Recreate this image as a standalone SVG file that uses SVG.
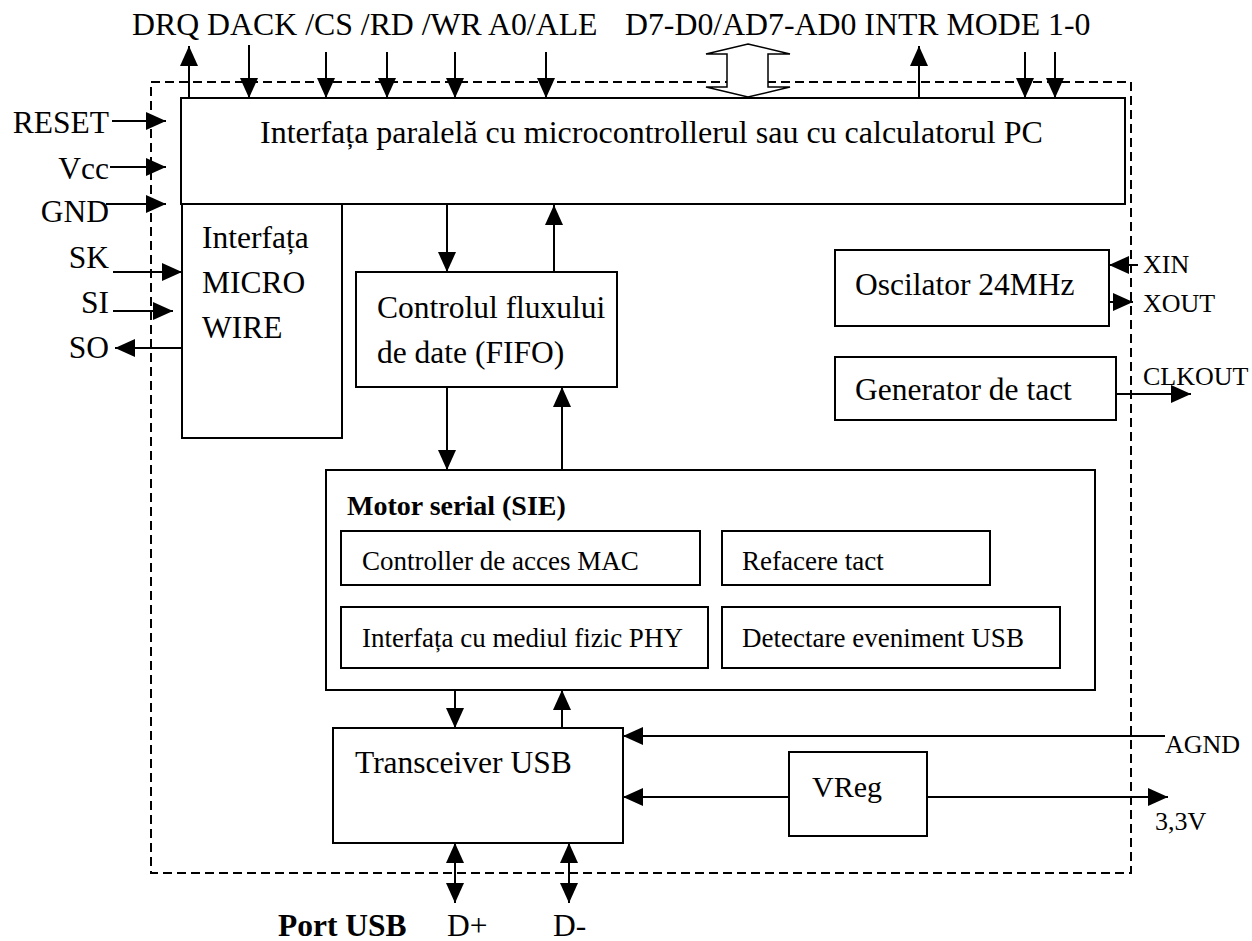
<svg xmlns="http://www.w3.org/2000/svg" width="1252" height="941" viewBox="0 0 1252 941">
<style>
  .box { fill: none; stroke: #000; stroke-width: 2; }
  .dash { fill: none; stroke: #000; stroke-width: 2; stroke-dasharray: 9 5; }
  .ln { fill: none; stroke: #000; stroke-width: 2; }
  .a { marker-end: url(#ah); }
  .aa { marker-start: url(#ah); marker-end: url(#ah); }
  text { font-family: "Liberation Serif", "Times New Roman", serif; fill: #000; }
  .t { font-size: 31.5px; }
  .top { font-size: 31.8px; }
  .sm { font-size: 26px; }
  .in { font-size: 27px; }
  .b { font-weight: bold; }
</style>
<defs>
  <marker id="ah" markerUnits="userSpaceOnUse" markerWidth="20" markerHeight="18" viewBox="0 0 20 18" refX="20" refY="9" orient="auto-start-reverse">
    <path d="M0,0 L20,9 L0,18 z" fill="#000"/>
  </marker>
</defs>
<rect class="dash" x="151" y="82" width="980" height="791"/>
<g id="labels">
  <text class="top" x="132" y="35">DRQ DACK /CS /RD /WR A0/ALE</text>
  <text class="top" x="625" y="35">D7-D0/AD7-AD0 INTR MODE 1-0</text>
  <text class="t" x="109" y="133" text-anchor="end">RESET</text>
  <text class="t" x="109" y="179" text-anchor="end">Vcc</text>
  <text class="t" x="109" y="222" text-anchor="end">GND</text>
  <text class="t" x="109" y="268" text-anchor="end">SK</text>
  <text class="t" x="109" y="313" text-anchor="end">SI</text>
  <text class="t" x="109" y="358" text-anchor="end">SO</text>
  <text class="sm" x="1143" y="273">XIN</text>
  <text class="sm" x="1143" y="312">XOUT</text>
  <text class="sm" x="1143" y="385">CLKOUT</text>
  <text class="sm" x="1165" y="753">AGND</text>
  <text class="sm" x="1155" y="830">3,3V</text>
  <text class="t b" x="278" y="936">Port USB</text>
  <text class="t" x="447" y="936">D+</text>
  <text class="t" x="553" y="936">D-</text>
</g>
<g id="parallel">
  <rect class="box" x="181" y="98" width="944" height="106"/>
  <text class="t" x="260" y="143" style="font-size:32px">Interfața paralelă cu microcontrollerul sau cu calculatorul PC</text>
</g>
<g id="microwire">
  <rect class="box" x="182" y="204" width="160" height="234"/>
  <text class="t" x="202" y="248">Interfața</text>
  <text class="t" x="202" y="293">MICRO</text>
  <text class="t" x="202" y="338">WIRE</text>
</g>
<g id="fifo">
  <rect class="box" x="356" y="272" width="261" height="115"/>
  <text class="t" x="377" y="318">Controlul fluxului</text>
  <text class="t" x="377" y="363">de date (FIFO)</text>
</g>
<g id="oscillator">
  <rect class="box" x="835" y="250" width="274" height="76"/>
  <text class="t" x="855" y="295">Oscilator 24MHz</text>
</g>
<g id="generator">
  <rect class="box" x="835" y="357" width="281" height="63"/>
  <text class="t" x="855" y="400">Generator de tact</text>
</g>
<g id="sie">
  <rect class="box" x="326" y="470" width="769" height="220"/>
  <text class="b" x="347" y="515" style="font-size:28px">Motor serial (SIE)</text>
</g>
<g id="mac">
  <rect class="box" x="341" y="531" width="359" height="54"/>
  <text class="in" x="362" y="570">Controller de acces MAC</text>
</g>
<g id="refacere">
  <rect class="box" x="722" y="531" width="268" height="54"/>
  <text class="in" x="742" y="570">Refacere tact</text>
</g>
<g id="phy">
  <rect class="box" x="341" y="607" width="367" height="61"/>
  <text class="in" x="362" y="647">Interfața cu mediul fizic PHY</text>
</g>
<g id="detectare">
  <rect class="box" x="722" y="607" width="338" height="61"/>
  <text class="in" x="742" y="647">Detectare eveniment USB</text>
</g>
<g id="transceiver">
  <rect class="box" x="333" y="728" width="290" height="115"/>
  <text class="t" x="355" y="773">Transceiver USB</text>
</g>
<g id="vreg">
  <rect class="box" x="789" y="752" width="138" height="84"/>
  <text class="t" x="812" y="797" style="font-size:30px">VReg</text>
</g>
<g id="connectors">
  <line class="ln a" x1="189" y1="98" x2="189" y2="46"/>
  <line class="ln a" x1="249" y1="45" x2="249" y2="98"/>
  <line class="ln a" x1="326" y1="52" x2="326" y2="98"/>
  <line class="ln a" x1="387" y1="52" x2="387" y2="98"/>
  <line class="ln a" x1="455" y1="52" x2="455" y2="98"/>
  <line class="ln a" x1="546" y1="52" x2="546" y2="98"/>
  <polygon points="748,44 790,54 768,54 768,87 790,87 748,97 706,87 727,87 727,54 706,54" fill="#fff" stroke="#000" stroke-width="1.5"/>
  <line class="ln a" x1="919" y1="98" x2="919" y2="46"/>
  <line class="ln a" x1="1025" y1="52" x2="1025" y2="98"/>
  <line class="ln a" x1="1055" y1="52" x2="1055" y2="98"/>
  <line class="ln a" x1="112" y1="121" x2="166" y2="121"/>
  <line class="ln a" x1="110" y1="167" x2="166" y2="167"/>
  <line class="ln a" x1="106" y1="204" x2="166" y2="204"/>
  <line class="ln a" x1="113" y1="272" x2="182" y2="272"/>
  <line class="ln a" x1="113" y1="311" x2="173" y2="311"/>
  <line class="ln a" x1="182" y1="348" x2="115" y2="348"/>
  <line class="ln a" x1="447" y1="204" x2="447" y2="272"/>
  <line class="ln a" x1="554" y1="272" x2="554" y2="205"/>
  <line class="ln a" x1="447" y1="387" x2="447" y2="470"/>
  <line class="ln a" x1="562" y1="470" x2="562" y2="387"/>
  <line class="ln a" x1="455" y1="690" x2="455" y2="728"/>
  <line class="ln a" x1="562" y1="728" x2="562" y2="690"/>
  <line class="ln a" x1="1138" y1="265" x2="1109" y2="265"/>
  <line class="ln a" x1="1109" y1="302" x2="1133" y2="302"/>
  <line class="ln a" x1="1116" y1="394" x2="1191" y2="394"/>
  <line class="ln a" x1="1165" y1="736" x2="623" y2="736"/>
  <line class="ln a" x1="789" y1="797" x2="623" y2="797"/>
  <line class="ln a" x1="927" y1="797" x2="1168" y2="797"/>
  <line class="ln aa" x1="455" y1="843" x2="455" y2="903"/>
  <line class="ln aa" x1="569" y1="843" x2="569" y2="903"/>
</g>
</svg>
